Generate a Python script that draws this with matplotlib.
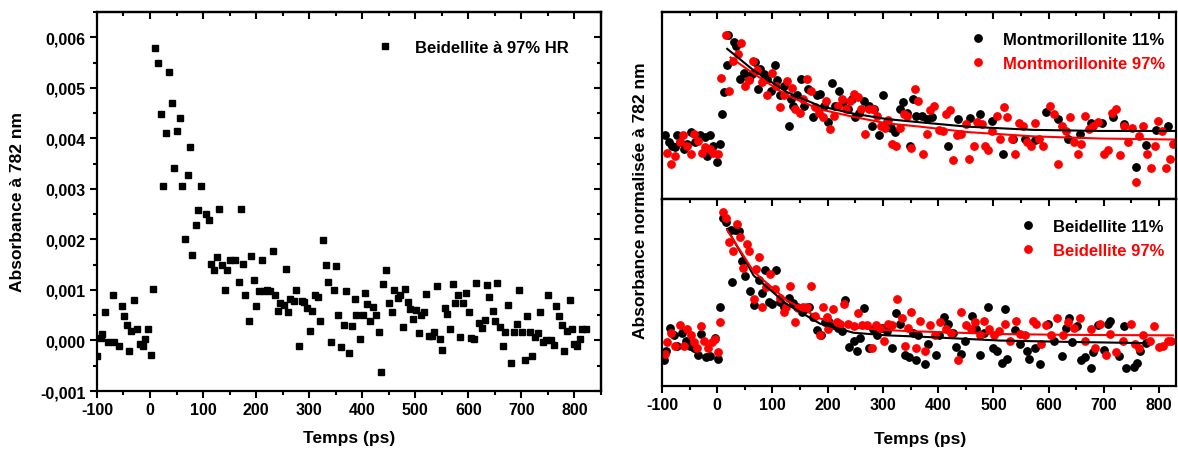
import matplotlib.pyplot as plt
from matplotlib.ticker import MultipleLocator, FuncFormatter, NullFormatter

plt.rcParams['font.family'] = ['Liberation Sans', 'DejaVu Sans']
plt.rcParams['font.weight'] = 'bold'
plt.rcParams['axes.unicode_minus'] = False

# left panel: Beidellite 97% HR (time in ps, absorbance)
beid_t = [-99, -92, -90, -84, -79, -69, -68, -58, -53, -49, -44, -39, -35, -30, -25, -19, -14, -9, -4, 1, 6,
          10, 16, 21, 25, 30, 36, 41, 45, 51, 56, 60, 66, 71, 76, 80, 86, 91, 96, 106, 111, 115, 121, 126, 130,
          135, 142, 145, 151, 161, 167, 171, 175, 180, 186, 191, 196, 200, 206, 211, 214, 220, 226, 231, 235,
          241, 245, 252, 257, 261, 264, 272, 275, 281, 286, 290, 296, 301, 306, 311, 317, 321, 326, 331, 335,
          341, 346, 350, 355, 360, 366, 370, 375, 381, 386, 389, 395, 401, 406, 410, 415, 421, 426, 431, 436,
          440, 445, 450, 456, 460, 467, 472, 476, 481, 486, 491, 496, 502, 507, 511, 516, 521, 526, 531, 536,
          541, 546, 551, 556, 560, 566, 571, 575, 580, 585, 590, 596, 601, 606, 611, 615, 621, 626, 631, 635,
          640, 646, 651, 655, 660, 665, 670, 675, 681, 686, 691, 696, 701, 706, 711, 716, 721, 726, 731, 736,
          741, 746, 751, 756, 761, 766, 771, 776, 781, 786, 791, 796, 800, 805, 810, 815, 821]
beid_a = [-0.00031, 0.00005, 0.00013, 0.00056, -0.00003, 0.0009, -0.00003, -0.0001, 0.00069, 0.00048, 0.00031,
          -0.0002, 0.00018, 0.0008, 0.00023, -0.00007, -0.00011, 0.00003, 0.00023, -0.00028, 0.00102,
          0.00578, 0.0055, 0.00449, 0.00306, 0.0041, 0.00531, 0.00469, 0.00341, 0.00414, 0.0044, 0.00306,
          0.002, 0.00328, 0.00383, 0.00169, 0.00228, 0.00259, 0.00306, 0.00251, 0.00238, 0.00152, 0.00139,
          0.00166, 0.0026, 0.0015, 0.00099, 0.00139, 0.0016, 0.0016, 0.00116, 0.0026, 0.00152, 0.00091,
          0.00038, 0.00167, 0.0012, 0.00068, 0.00098, 0.00159, 0.00097, 0.001, 0.00098, 0.00178, 0.0009,
          0.00058, 0.00075, 0.00071, 0.00141, 0.00056, 0.00083, 0.00079, 0.00099, -0.00011, 0.00079, 0.00076,
          0.00065, 0.00018, 0.00059, 0.0009, 0.00087, 0.00038, 0.00198, 0.00149, 0.00116, -0.00003, 0.001,
          0.00147, 0.0005, -0.00013, 0.00031, 0.00098, -0.00024, 0.00028, 0.00083, 0.00051, 0.00002, 0.00051,
          0.00094, 0.00073, 0.00038, 0.00066, 0.00051, 0.00016, -0.00063, 0.00111, 0.00139, 0.00074, 0.00057,
          0.00099, 0.00084, 0.0009, 0.00026, 0.00102, 0.00076, 0.00063, 0.00043, 0.00061, 0.00015, 0.00051,
          0.00057, 0.00092, 0.00008, 0.00008, 0.00016, 0.00107, 0.00002, -0.00018, 0.00065, 0.00053, 0.00022,
          0.00111, 0.00075, 0.0009, 0.00007, 0.00075, 0.00094, 0.00056, 0.00005, 0.00003, 0.00113, 0.00035,
          0.00025, 0.0004, 0.00109, 0.00087, 0.00059, 0.00038, 0.00114, 0.00026, -0.00011, 0.00016, 0.0007,
          -0.00044, 0.00016, 0.00033, 0.001, 0.00016, -0.00038, 0.00048, 0.00016, -0.0003, 0.00007, 0.00015,
          0.00056, -0.00003, 0.0, 0.0009, 0.0, -0.00009, 0.00069, 0.00048, 0.00031, -0.0002, 0.00018, 0.0008,
          0.00023, -0.00007, -0.00011, 0.00003, 0.00023, 0.00023]

# top right: Montmorillonite 11% (black)
mont11_t = [-94, -88, -82, -76, -72, -67, -61, -55, -48, -40, -31, -22, -18, -13, -7, 0, 5, 8, 13, 18, 20, 30,
            34, 42, 49, 57, 63, 69, 73, 78, 85, 90, 97, 105, 109, 114, 121, 129, 133, 138, 144, 151, 157, 165,
            173, 180, 186, 193, 201, 207, 213, 221, 228, 236, 244, 250, 257, 265, 274, 280, 284, 293, 301, 307,
            314, 322, 330, 336, 343, 349, 354, 360, 370, 379, 388, 417, 436, 457, 476, 497, 517, 536, 557, 575,
            596, 617, 635, 656, 676, 697, 716, 736, 758, 777, 795, 816]
mont11_y = [0.08, 0.02, -0.02, -0.03, 0.08, 0.02, -0.05, 0.0, 0.11, 0.02, 0.08, 0.06, -0.11, 0.08, -0.02, -0.17,
            0.0, 0.28, 0.48, 0.73, 1.01, 0.94, 0.91, 0.6, 0.66, 0.6, 0.65, 0.76, 0.51, 0.69, 0.65, 0.6, 0.49,
            0.73, 0.59, 0.45, 0.54, 0.17, 0.42, 0.35, 0.45, 0.6, 0.35, 0.51, 0.25, 0.45, 0.46, 0.35, 0.2, 0.56,
            0.35, 0.49, 0.39, 0.32, 0.42, 0.25, 0.29, 0.4, 0.35, 0.17, 0.32, 0.08, 0.45, 0.2, 0.15, 0.11, 0.32,
            0.39, 0.29, -0.02, 0.42, 0.26, 0.26, 0.23, 0.25, -0.02, 0.23, 0.24, 0.28, 0.21, -0.09, 0.05, 0.05,
            0.04, 0.3, 0.23, 0.05, 0.09, 0.19, 0.19, 0.25, 0.18, -0.21, -0.01, 0.13, 0.17]

# top right: Montmorillonite 97% (red)
mont97_t = [-91, -83, -76, -68, -62, -55, -48, -42, -34, -28, -22, -14, -7, 1, 7, 16, 22, 28, 37, 43, 51, 57,
            65, 72, 81, 90, 99, 106, 113, 120, 127, 135, 141, 150, 155, 162, 169, 177, 185, 191, 197, 204, 212,
            219, 225, 233, 241, 247, 254, 260, 268, 274, 282, 289, 296, 304, 310, 316, 324, 331, 338, 344, 350,
            358, 364, 372, 379, 386, 393, 402, 408, 414, 421, 427, 435, 442, 450, 456, 464, 471, 479, 485, 491,
            498, 506, 512, 519, 525, 533, 540, 547, 554, 561, 568, 575, 583, 589, 602, 609, 617, 625, 631, 638,
            646, 653, 659, 665, 673, 680, 689, 700, 708, 714, 722, 729, 736, 744, 751, 758, 764, 771, 778, 786,
            792, 798, 806, 813, 820, 826]
mont97_y = [-0.08, -0.19, -0.11, 0.02, 0.08, -0.02, -0.09, 0.09, 0.03, -0.08, -0.03, -0.05, -0.08, -0.09, 0.61,
            1.01, 0.49, 0.77, 0.83, 0.93, 0.54, 0.59, 0.77, 0.68, 0.57, 0.45, 0.66, 0.54, 0.34, 0.45, 0.58, 0.52,
            0.32, 0.29, 0.42, 0.6, 0.49, 0.34, 0.29, 0.25, 0.4, 0.14, 0.26, 0.35, 0.42, 0.32, 0.4, 0.46, 0.43,
            0.32, 0.09, 0.32, 0.32, 0.26, 0.17, 0.15, 0.22, 0.0, -0.02, 0.15, 0.28, 0.26, -0.04, 0.51, 0.4,
            -0.09, 0.09, 0.31, 0.35, 0.13, 0.12, 0.28, 0.31, -0.15, 0.08, 0.09, 0.18, -0.14, -0.02, 0.2, 0.18,
            -0.02, -0.06, 0.12, 0.26, 0.05, 0.34, 0.25, 0.05, -0.09, 0.19, 0.17, 0.02, -0.02, 0.19, 0.05, -0.02,
            0.35, 0.28, -0.19, 0.17, 0.12, 0.25, 0.02, -0.09, 0.0, 0.26, 0.14, 0.17, 0.2, -0.09, -0.06, 0.29,
            0.32, -0.1, 0.17, 0.02, 0.15, -0.35, 0.07, 0.17, -0.09, -0.22, -0.02, 0.21, 0.12, -0.22, -0.14, 0.0]

# fitted decays
mont11_fit_t = [18, 66, 126, 186, 247, 307, 367, 452, 572, 693, 834]
mont11_fit_y = [0.88, 0.68, 0.48, 0.35, 0.28, 0.23, 0.2, 0.16, 0.13, 0.12, 0.12]
mont97_fit_t = [24, 66, 126, 186, 247, 307, 367, 452, 572, 693, 834]
mont97_fit_y = [0.8, 0.65, 0.45, 0.32, 0.25, 0.19, 0.16, 0.11, 0.07, 0.05, 0.04]

# bottom right: Beidellite 11% (black)
beid11_t = [-97, -92, -85, -78, -72, -64, -56, -49, -42, -34, -29, -20, -14, -5, 1, 5, 10, 16, 24, 27, 33, 40,
            45, 51, 60, 66, 75, 81, 86, 93, 99, 106, 113, 121, 129, 137, 144, 153, 159, 167, 174, 180, 188, 195,
            203, 212, 219, 225, 231, 239, 247, 253, 259, 266, 274, 282, 289, 298, 307, 316, 324, 331, 340, 348,
            355, 360, 364, 376, 382, 396, 402, 410, 418, 427, 433, 441, 448, 461, 468, 476, 483, 491, 500, 507,
            515, 521, 525, 539, 548, 560, 565, 575, 584, 599, 609, 625, 632, 637, 643, 652, 659, 665, 676, 680,
            690, 700, 708, 712, 728, 736, 741, 755, 760, 766, 777]
beid11_y = [-0.14, -0.07, 0.11, 0.05, -0.03, 0.07, 0.01, -0.03, -0.05, -0.1, 0.06, -0.12, -0.11, 0.03, -0.13,
            0.27, 0.95, 0.92, 0.86, 0.46, 0.86, 0.85, 0.62, 0.51, 0.39, 0.28, 0.48, 0.38, 0.55, 0.31, 0.29, 0.55,
            0.31, 0.27, 0.34, 0.3, 0.27, 0.23, 0.25, 0.27, 0.19, 0.09, 0.05, 0.15, 0.15, 0.13, 0.11, 0.08, 0.32,
            -0.04, 0.01, -0.07, 0.03, 0.26, -0.05, 0.1, 0.05, 0.11, 0.08, -0.05, 0.22, 0.14, -0.1, -0.12, 0.07,
            -0.14, 0.05, -0.17, -0.02, -0.1, 0.05, 0.19, 0.14, 0.07, -0.04, -0.09, 0.01, 0.2, 0.1, -0.1, 0.07,
            0.27, -0.05, -0.07, -0.16, 0.25, -0.13, 0.09, -0.02, -0.07, -0.13, -0.05, -0.17, 0.14, 0.01, -0.11,
            0.11, 0.18, 0.0, 0.12, -0.14, -0.12, -0.2, -0.08, 0.13, -0.06, 0.14, 0.16, -0.11, 0.12, -0.2, -0.19,
            -0.16, -0.07, -0.01]

# bottom right: Beidellite 97% (red)
beid97_t = [-95, -91, -84, -76, -68, -61, -55, -48, -42, -36, -29, -24, -16, -10, -4, 1, 5, 11, 16, 21, 29, 36,
            42, 46, 53, 58, 66, 70, 76, 81, 88, 96, 105, 113, 120, 125, 131, 140, 147, 155, 162, 170, 177, 186,
            191, 199, 201, 210, 216, 222, 230, 237, 247, 255, 262, 271, 280, 288, 295, 302, 309, 316, 325, 334,
            340, 346, 350, 360, 368, 376, 386, 394, 403, 414, 424, 436, 442, 451, 459, 466, 476, 483, 492, 501,
            510, 521, 530, 541, 548, 557, 571, 578, 587, 596, 605, 615, 626, 635, 646, 656, 665, 676, 684, 693,
            704, 712, 722, 734, 750, 756, 764, 771, 783, 790, 800, 807, 816, 822]
beid97_y = [-0.09, 0.0, 0.07, -0.03, 0.13, -0.03, 0.1, 0.05, 0.0, -0.05, 0.12, 0.01, -0.05, 0.0, 0.02, -0.08,
            0.15, 1.0, 0.95, 0.77, 0.7, 0.91, 0.81, 0.57, 0.75, 0.7, 0.33, 0.56, 0.65, 0.27, 0.42, 0.52, 0.41,
            0.34, 0.23, 0.27, 0.43, 0.15, 0.26, 0.27, 0.27, 0.43, 0.2, 0.05, 0.27, 0.19, 0.1, 0.25, 0.15, 0.14,
            0.29, 0.14, 0.12, 0.22, 0.13, 0.13, -0.05, 0.13, 0.11, 0.01, 0.14, 0.13, 0.33, 0.18, -0.03, 0.11,
            0.23, -0.05, 0.16, -0.07, 0.13, 0.05, 0.15, 0.1, 0.07, -0.14, 0.23, 0.13, 0.1, 0.15, 0.05, 0.16, 0.1,
            0.05, 0.08, 0.14, 0.01, 0.16, 0.06, 0.05, 0.16, 0.14, -0.02, 0.13, 0.05, 0.18, 0.05, 0.15, 0.11,
            0.18, 0.01, 0.1, -0.05, 0.14, -0.1, 0.06, -0.08, 0.01, 0.14, -0.02, -0.05, 0.05, 0.01, 0.12, -0.04,
            -0.03, 0.01, 0.01]

beid11_fit_t = [18, 66, 126, 186, 247, 307, 367, 512, 632, 777]
beid11_fit_y = [0.87, 0.51, 0.29, 0.14, 0.07, 0.05, 0.04, 0.01, 0.0, -0.01]
beid97_fit_t = [18, 66, 126, 186, 247, 307, 367, 512, 632, 825]
beid97_fit_y = [0.86, 0.54, 0.32, 0.18, 0.11, 0.09, 0.08, 0.06, 0.054, 0.05]

red = '#ff0000'


def style_axes(ax, yticks=True):
    # Origin look: ticks outside on bottom/left, inside on top/right
    for s in ax.spines.values():
        s.set_linewidth(1.6)
    ax.xaxis.set_major_locator(MultipleLocator(100))
    ax.xaxis.set_minor_locator(MultipleLocator(50))
    ax.tick_params(which='both', direction='out', width=1.5, labelsize=11.5, pad=3,
                   top=False, right=False, left=yticks, labelleft=yticks)
    ax.tick_params(which='major', length=5)
    ax.tick_params(which='minor', length=3)
    top = ax.secondary_xaxis('top')
    top.xaxis.set_major_locator(MultipleLocator(100))
    top.xaxis.set_minor_locator(MultipleLocator(50))
    top.tick_params(which='both', direction='in', width=1.5, labeltop=False)
    top.tick_params(which='major', length=5)
    top.tick_params(which='minor', length=3)
    top.spines['top'].set_linewidth(1.6)
    if yticks:
        right = ax.secondary_yaxis('right')
        right.yaxis.set_major_locator(MultipleLocator(0.001))
        right.yaxis.set_minor_locator(MultipleLocator(0.0005))
        right.tick_params(which='both', direction='in', width=1.5, labelright=False)
        right.tick_params(which='major', length=5)
        right.tick_params(which='minor', length=3)
        right.spines['right'].set_linewidth(1.6)


fig = plt.figure(figsize=(11.78, 4.52), dpi=100)

# ---- left panel
ax1 = fig.add_axes([0.0823, 0.1327, 0.4278, 0.8385])
ax1.plot(beid_t, beid_a, 's', color='black', markersize=5, label='Beidellite à 97% HR')
ax1.set_xlim(-100, 850)
ax1.set_ylim(-0.001, 0.0065)
ax1.yaxis.set_major_locator(MultipleLocator(0.001))
ax1.yaxis.set_minor_locator(MultipleLocator(0.0005))
style_axes(ax1)
ax1.yaxis.set_major_formatter(FuncFormatter(lambda v, p: f"{v:.3f}".replace('.', ',').replace('-0,000', '0,000')))
ax1.legend(loc='upper right', frameon=False, fontsize=12, handletextpad=0.8,
           bbox_to_anchor=(0.965, 0.965))
fig.text(349 / 1178, 1 - 439 / 452, 'Temps (ps)', ha='center', va='center', fontsize=12.5, fontweight='bold')
fig.text(18 / 1178, 1 - 202 / 452, 'Absorbance à 782 nm', rotation=90, ha='center', va='center',
         fontsize=12.5, fontweight='bold')

# ---- right panels
ax2 = fig.add_axes([0.562, 0.5575, 0.436, 0.4135])
ax3 = fig.add_axes([0.562, 0.1438, 0.436, 0.4137])

ax2.plot(mont11_t, mont11_y, 'o', color='black', markersize=5.3, label='Montmorillonite 11%')
ax2.plot(mont97_t, mont97_y, 'o', color=red, markersize=5.3, label='Montmorillonite 97%')
ax2.plot(mont11_fit_t, mont11_fit_y, '-', color='black', lw=1.5)
ax2.plot(mont97_fit_t, mont97_fit_y, '-', color=red, lw=1.5)
ax2.set_ylim(-0.51, 1.22)

ax3.plot(beid11_t, beid11_y, 'o', color='black', markersize=5.3, label='Beidellite 11%')
ax3.plot(beid97_t, beid97_y, 'o', color=red, markersize=5.3, label='Beidellite 97%')
ax3.plot(beid11_fit_t, beid11_fit_y, '-', color='black', lw=1.5)
ax3.plot(beid97_fit_t, beid97_fit_y, '-', color=red, lw=1.5)
ax3.set_ylim(-0.34, 1.1)

for ax in (ax2, ax3):
    ax.set_xlim(-100, 830)
    style_axes(ax, yticks=False)
    leg = ax.legend(loc='upper right', frameon=False, fontsize=12, handletextpad=0.5,
                    borderaxespad=0.25, labelspacing=0.5, bbox_to_anchor=(1.0, 0.95))
    for txt, c in zip(leg.get_texts(), ['black', red]):
        txt.set_color(c)

ax2.xaxis.set_major_formatter(NullFormatter())
fig.text(920 / 1178, 1 - 440 / 452, 'Temps (ps)', ha='center', va='center', fontsize=12.5, fontweight='bold')
fig.text(0.5435, 0.557, 'Absorbance normalisée à 782 nm', rotation=90, ha='center', va='center',
         fontsize=12.5, fontweight='bold')

fig.savefig('out.png', dpi=100)
